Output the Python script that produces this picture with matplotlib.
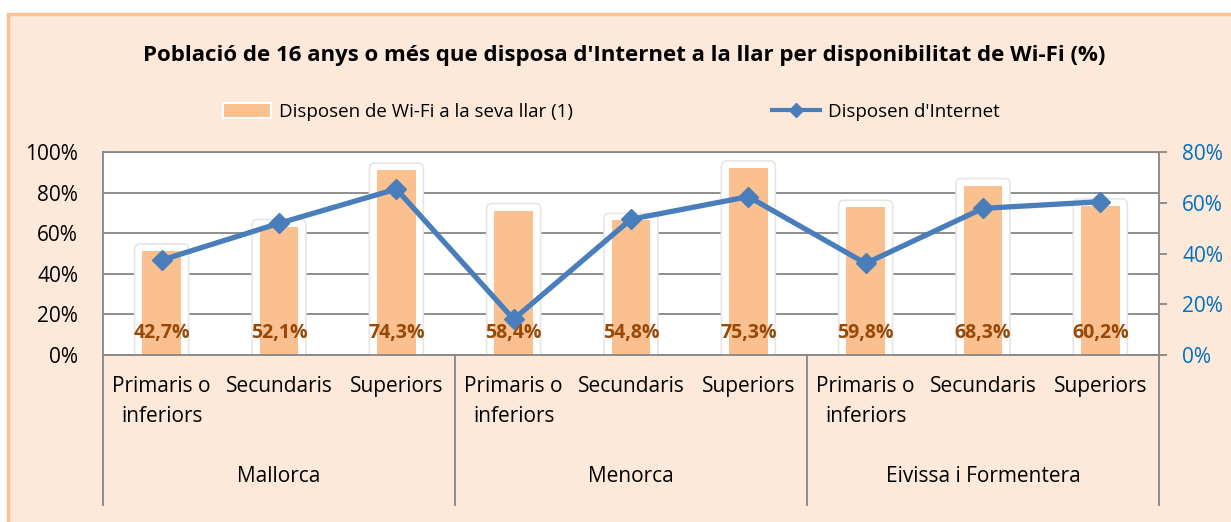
import matplotlib.pyplot as plt
from matplotlib.patches import Rectangle, FancyBboxPatch
from matplotlib.lines import Line2D
from matplotlib.patches import Patch

# dades llegides del grafic
illes = ["Mallorca", "Menorca", "Eivissa i Formentera"]
estudis = ["Primaris o\ninferiors", "Secundaris", "Superiors"]
wifi = [51.2, 63.2, 91.0, 71.1, 66.3, 92.1, 72.7, 83.4, 73.4]
internet = [37.4, 51.9, 65.4, 14.1, 53.5, 62.4, 36.1, 57.8, 60.4]
etiquetes = ["42,7%", "52,1%", "74,3%", "58,4%", "54,8%", "75,3%", "59,8%", "68,3%", "60,2%"]

W, H = 1231, 522
plt.rcParams['font.family'] = ['Open Sans', 'DejaVu Sans']

fig = plt.figure(figsize=(W / 100, H / 100), dpi=100, facecolor='white')
# fons del grafic (caixa peach amb vora taronja)
fig.patches.append(Rectangle((8 / W, -0.05), 1.1, 1 - 14 / H + 0.05, transform=fig.transFigure,
                             facecolor='#FDE9D9', edgecolor='#FAC090', linewidth=2.5, zorder=-10))

ax = fig.add_axes([103 / W, 1 - 355 / H, (1159 - 103) / W, (355 - 152) / H])
ax.set_facecolor('white')
x = list(range(len(wifi)))
ax.set_xlim(-0.5, len(wifi) - 0.5)
ax.set_ylim(0, 100)
ax.set_yticks(range(0, 101, 20))
ax.set_yticklabels([f"{v}%" for v in range(0, 101, 20)], fontsize=15)
ax.tick_params(axis='y', length=0, pad=18)
ax.grid(axis='y', color='#868686', linewidth=1.3, zorder=0)
ax.set_axisbelow(True)
for s in ax.spines.values():
    s.set_color('#868686')
    s.set_linewidth(1.3)

bw = 0.33
# halo blanc darrere de cada barra
for i, v in enumerate(wifi):
    p = FancyBboxPatch((i - bw / 2 - 0.065, -1.5), bw + 0.13, v + 5,
                       boxstyle="round,pad=0,rounding_size=0.045", mutation_aspect=60,
                       facecolor='white', edgecolor='#e6e6e6', linewidth=1.2, zorder=1.5)
    ax.add_patch(p)
ax.bar(x, wifi, width=bw, color='#FAC090', zorder=2)
for i, t in enumerate(etiquetes):
    ax.text(i, 11, t, ha='center', va='center', fontsize=14, fontweight='bold',
            color='#984807', zorder=3)

# eix de categories
ax.set_xticks(x)
ax.set_xticklabels(estudis * 3, fontsize=15, linespacing=1.55)
ax.tick_params(axis='x', length=0, pad=15)
trans = ax.get_xaxis_transform()
for b in [-0.5, 2.5, 5.5, 8.5]:
    ax.add_line(Line2D([b, b], [0, -150 / 203], transform=trans, color='#868686',
                       linewidth=1.3, clip_on=False))
for g, nom in enumerate(illes):
    ax.text(3 * g + 1, -121 / 203, nom, transform=trans, ha='center', va='center', fontsize=15)

# eix secundari
ax2 = ax.twinx()
ax2.set_ylim(0, 80)
ax2.set_yticks(range(0, 81, 20))
ax2.set_yticklabels([f"{v}%" for v in range(0, 81, 20)], fontsize=15, color='#0070C0')
ax2.tick_params(axis='y', length=5.8, width=1.3, color='#868686', pad=11)
for s in ax2.spines.values():
    s.set_visible(False)
ax2.plot(x, internet, color='#4A7EBB', linewidth=3.8, marker='D', markersize=10,
         markerfacecolor='#4A7EBB', markeredgecolor='#4A7EBB', zorder=5)

fig.text(624 / W, 1 - 55 / H,
         "Població de 16 anys o més que disposa d'Internet a la llar per disponibilitat de Wi-Fi (%)",
         ha='center', va='center', fontsize=16, fontweight='bold')

handles = [Patch(facecolor='#FAC090', edgecolor='white', linewidth=1.5),
           Line2D([], [], color='#4A7EBB', linewidth=3, marker='D', markersize=7)]
fig.legend(handles, ["Disposen de Wi-Fi a la seva llar (1)", "Disposen d'Internet"],
           loc='center', bbox_to_anchor=(611 / W, 1 - 112 / H), ncol=2, frameon=False,
           fontsize=13.5, handlelength=2.6, handleheight=0.9, handletextpad=0.4,
           columnspacing=10.6)

fig.savefig("out.png", dpi=100, facecolor=fig.get_facecolor())
